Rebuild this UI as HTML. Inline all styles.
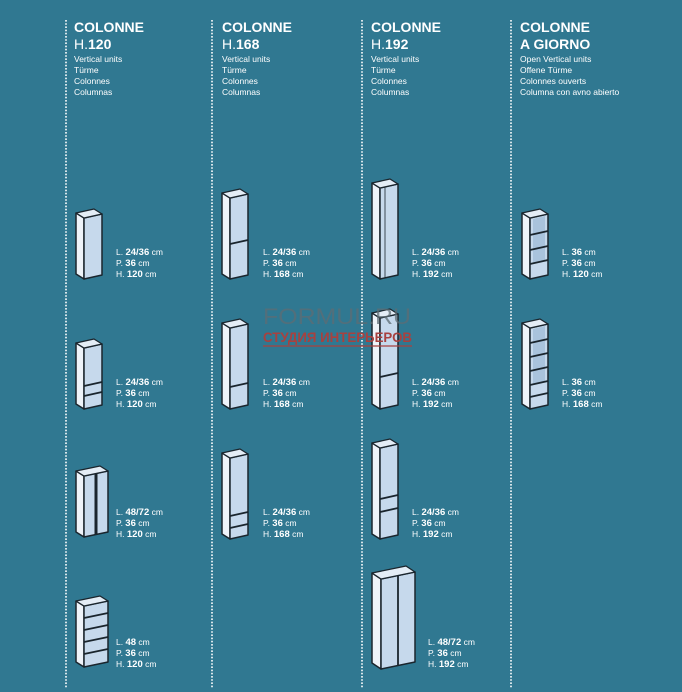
<!DOCTYPE html>
<html><head><meta charset="utf-8"><style>
html,body{margin:0;padding:0;background:#307891;}
svg{display:block}
text{font-family:"Liberation Sans",sans-serif;fill:#fff}
.h{font-weight:bold;font-size:14px}
.s{font-size:8.5px}
.d{font-size:8.5px}
.d tspan.b{font-weight:bold;font-size:9.5px}
.side{fill:#eef3f9;stroke:#1a252d;stroke-width:1.5;stroke-linejoin:round}
.front{fill:#c6d9ec;stroke:#1a252d;stroke-width:1.5;stroke-linejoin:round}
.top{fill:#e4edf6;stroke:#1a252d;stroke-width:1.3;stroke-linejoin:round}
.ln{stroke:#1a252d;stroke-width:1.8}
.dot{stroke:#fff;stroke-width:1.6;stroke-dasharray:1.6 1.6}
</style></head><body>
<svg width="682" height="692" viewBox="0 0 682 692" xmlns="http://www.w3.org/2000/svg">
<rect width="682" height="692" fill="#307891"/>
<line class="dot" x1="66" y1="20" x2="66" y2="688"/>
<line class="dot" x1="212" y1="20" x2="212" y2="688"/>
<line class="dot" x1="362" y1="20" x2="362" y2="688"/>
<line class="dot" x1="511" y1="20" x2="511" y2="688"/>

<!-- headers -->
<text class="h" x="74" y="32">COLONNE</text>
<text x="74" y="49" style="font-size:14px">H.<tspan font-weight="bold">120</tspan></text>
<text class="s" x="74" y="62">Vertical units</text><text class="s" x="74" y="73">Türme</text><text class="s" x="74" y="84">Colonnes</text><text class="s" x="74" y="95">Columnas</text>

<text class="h" x="222" y="32">COLONNE</text>
<text x="222" y="49" style="font-size:14px">H.<tspan font-weight="bold">168</tspan></text>
<text class="s" x="222" y="62">Vertical units</text><text class="s" x="222" y="73">Türme</text><text class="s" x="222" y="84">Colonnes</text><text class="s" x="222" y="95">Columnas</text>

<text class="h" x="371" y="32">COLONNE</text>
<text x="371" y="49" style="font-size:14px">H.<tspan font-weight="bold">192</tspan></text>
<text class="s" x="371" y="62">Vertical units</text><text class="s" x="371" y="73">Türme</text><text class="s" x="371" y="84">Colonnes</text><text class="s" x="371" y="95">Columnas</text>

<text class="h" x="520" y="32">COLONNE</text>
<text class="h" x="520" y="49">A GIORNO</text>
<text class="s" x="520" y="62">Open Vertical units</text><text class="s" x="520" y="73">Offene Türme</text><text class="s" x="520" y="84">Colonnes ouverts</text><text class="s" x="520" y="95">Columna con avno abierto</text>

<!-- col1 -->
<g transform="translate(76,213)">
<polygon class="side" points="0,0 8,5 8,66 0,61"/><polygon class="front" points="8,5 26,1 26,62 8,66"/><polygon class="top" points="0,0 18,-4 26,1 8,5"/>
</g>
<g transform="translate(76,343)">
<polygon class="side" points="0,0 8,5 8,66 0,61"/><polygon class="front" points="8,5 26,1 26,62 8,66"/><polygon class="top" points="0,0 18,-4 26,1 8,5"/>
<line class="ln" x1="8" y1="43" x2="26" y2="39"/><line class="ln" x1="8" y1="53" x2="26" y2="49"/>
</g>
<g transform="translate(76,471)">
<polygon class="side" points="0,0 8,5 8,66 0,61"/><polygon class="front" points="8,5 32,0 32,61 8,66"/><polygon class="top" points="0,0 24,-5 32,0 8,5"/>
<line x1="20" y1="3" x2="20" y2="64" stroke="#1a252d" stroke-width="3"/>
</g>
<g transform="translate(76,601)">
<polygon class="side" points="0,0 8,5 8,66 0,61"/><polygon class="front" points="8,5 32,0 32,61 8,66"/><polygon class="top" points="0,0 24,-5 32,0 8,5"/>
<line class="ln" x1="8" y1="17" x2="32" y2="12"/><line class="ln" x1="8" y1="29" x2="32" y2="24"/><line class="ln" x1="8" y1="41" x2="32" y2="36"/><line class="ln" x1="8" y1="53" x2="32" y2="48"/>
</g>

<!-- col2 -->
<g transform="translate(222,193)">
<polygon class="side" points="0,0 8,5 8,86 0,81"/><polygon class="front" points="8,5 26,1 26,82 8,86"/><polygon class="top" points="0,0 18,-4 26,1 8,5"/>
<line class="ln" x1="8" y1="51" x2="26" y2="47"/>
</g>
<g transform="translate(222,323)">
<polygon class="side" points="0,0 8,5 8,86 0,81"/><polygon class="front" points="8,5 26,1 26,82 8,86"/><polygon class="top" points="0,0 18,-4 26,1 8,5"/>
<line class="ln" x1="8" y1="64" x2="26" y2="60"/>
</g>
<g transform="translate(222,453)">
<polygon class="side" points="0,0 8,5 8,86 0,81"/><polygon class="front" points="8,5 26,1 26,82 8,86"/><polygon class="top" points="0,0 18,-4 26,1 8,5"/>
<line class="ln" x1="8" y1="63" x2="26" y2="59"/><line class="ln" x1="8" y1="75" x2="26" y2="71"/>
</g>

<!-- col3 -->
<g transform="translate(372,183)">
<polygon class="side" points="0,0 8,5 8,96 0,91"/><polygon class="front" points="8,5 26,1 26,92 8,96"/><polygon class="top" points="0,0 18,-4 26,1 8,5"/>
<line x1="13" y1="4" x2="13" y2="95" stroke="#1a252d" stroke-width="0.8"/>
</g>
<g transform="translate(372,313)">
<polygon class="side" points="0,0 8,5 8,96 0,91"/><polygon class="front" points="8,5 26,1 26,92 8,96"/><polygon class="top" points="0,0 18,-4 26,1 8,5"/>
<line class="ln" x1="8" y1="64" x2="26" y2="60"/>
</g>
<g transform="translate(372,443)">
<polygon class="side" points="0,0 8,5 8,96 0,91"/><polygon class="front" points="8,5 26,1 26,92 8,96"/><polygon class="top" points="0,0 18,-4 26,1 8,5"/>
<line class="ln" x1="8" y1="56" x2="26" y2="52"/><line class="ln" x1="8" y1="69" x2="26" y2="65"/>
</g>
<g transform="translate(372,573)">
<polygon class="side" points="0,0 9,6 9,96 0,90"/><polygon class="front" points="9,6 43,-1 43,89 9,96"/><polygon class="top" points="0,0 34,-7 43,-1 9,6"/>
<line class="ln" x1="26" y1="2.5" x2="26" y2="92.5"/>
</g>

<!-- col4 open -->
<g transform="translate(522,213)">
<polygon class="side" points="0,0 8,5 8,66 0,61"/><polygon class="front" points="8,5 26,1 26,62 8,66"/><polygon class="top" points="0,0 18,-4 26,1 8,5"/>
<polygon points="11,6 23,3 23,47 11,50" fill="#a9c3dc"/>
<line class="ln" x1="8" y1="22" x2="26" y2="18"/><line class="ln" x1="8" y1="37" x2="26" y2="33"/><line class="ln" x1="8" y1="51" x2="26" y2="47"/>
</g>
<g transform="translate(522,323)">
<polygon class="side" points="0,0 8,5 8,86 0,81"/><polygon class="front" points="8,5 26,1 26,82 8,86"/><polygon class="top" points="0,0 18,-4 26,1 8,5"/>
<polygon points="11,6 23,3 23,58 11,61" fill="#a9c3dc"/>
<line class="ln" x1="8" y1="20" x2="26" y2="16"/><line class="ln" x1="8" y1="34" x2="26" y2="30"/><line class="ln" x1="8" y1="48" x2="26" y2="44"/><line class="ln" x1="8" y1="62" x2="26" y2="58"/><line class="ln" x1="8" y1="74" x2="26" y2="70"/>
</g>

<!-- dims -->
<text class="d" x="116" y="255">L. <tspan class="b">24/36</tspan> cm</text><text class="d" x="116" y="266">P. <tspan class="b">36</tspan> cm</text><text class="d" x="116" y="277">H. <tspan class="b">120</tspan> cm</text>
<text class="d" x="116" y="385">L. <tspan class="b">24/36</tspan> cm</text><text class="d" x="116" y="396">P. <tspan class="b">36</tspan> cm</text><text class="d" x="116" y="407">H. <tspan class="b">120</tspan> cm</text>
<text class="d" x="116" y="515">L. <tspan class="b">48/72</tspan> cm</text><text class="d" x="116" y="526">P. <tspan class="b">36</tspan> cm</text><text class="d" x="116" y="537">H. <tspan class="b">120</tspan> cm</text>
<text class="d" x="116" y="645">L. <tspan class="b">48</tspan> cm</text><text class="d" x="116" y="656">P. <tspan class="b">36</tspan> cm</text><text class="d" x="116" y="667">H. <tspan class="b">120</tspan> cm</text>

<text class="d" x="263" y="255">L. <tspan class="b">24/36</tspan> cm</text><text class="d" x="263" y="266">P. <tspan class="b">36</tspan> cm</text><text class="d" x="263" y="277">H. <tspan class="b">168</tspan> cm</text>
<text class="d" x="263" y="385">L. <tspan class="b">24/36</tspan> cm</text><text class="d" x="263" y="396">P. <tspan class="b">36</tspan> cm</text><text class="d" x="263" y="407">H. <tspan class="b">168</tspan> cm</text>
<text class="d" x="263" y="515">L. <tspan class="b">24/36</tspan> cm</text><text class="d" x="263" y="526">P. <tspan class="b">36</tspan> cm</text><text class="d" x="263" y="537">H. <tspan class="b">168</tspan> cm</text>

<text class="d" x="412" y="255">L. <tspan class="b">24/36</tspan> cm</text><text class="d" x="412" y="266">P. <tspan class="b">36</tspan> cm</text><text class="d" x="412" y="277">H. <tspan class="b">192</tspan> cm</text>
<text class="d" x="412" y="385">L. <tspan class="b">24/36</tspan> cm</text><text class="d" x="412" y="396">P. <tspan class="b">36</tspan> cm</text><text class="d" x="412" y="407">H. <tspan class="b">192</tspan> cm</text>
<text class="d" x="412" y="515">L. <tspan class="b">24/36</tspan> cm</text><text class="d" x="412" y="526">P. <tspan class="b">36</tspan> cm</text><text class="d" x="412" y="537">H. <tspan class="b">192</tspan> cm</text>
<text class="d" x="428" y="645">L. <tspan class="b">48/72</tspan> cm</text><text class="d" x="428" y="656">P. <tspan class="b">36</tspan> cm</text><text class="d" x="428" y="667">H. <tspan class="b">192</tspan> cm</text>

<text class="d" x="562" y="255">L. <tspan class="b">36</tspan> cm</text><text class="d" x="562" y="266">P. <tspan class="b">36</tspan> cm</text><text class="d" x="562" y="277">H. <tspan class="b">120</tspan> cm</text>
<text class="d" x="562" y="385">L. <tspan class="b">36</tspan> cm</text><text class="d" x="562" y="396">P. <tspan class="b">36</tspan> cm</text><text class="d" x="562" y="407">H. <tspan class="b">168</tspan> cm</text>

<!-- watermark (on top) -->
<text x="263" y="324" textLength="148" lengthAdjust="spacingAndGlyphs" style="font-size:22px;fill:#5d6c74;fill-opacity:0.75">FORMUL.RU</text>
<text x="263" y="342" textLength="149" lengthAdjust="spacingAndGlyphs" style="font-size:14px;fill:#a8413f;font-weight:bold">СТУДИЯ ИНТЕРЬЕРОВ</text>
<line x1="263" y1="346" x2="412" y2="346" stroke="#a8413f" stroke-width="1.2"/>
</svg>
</body></html>
